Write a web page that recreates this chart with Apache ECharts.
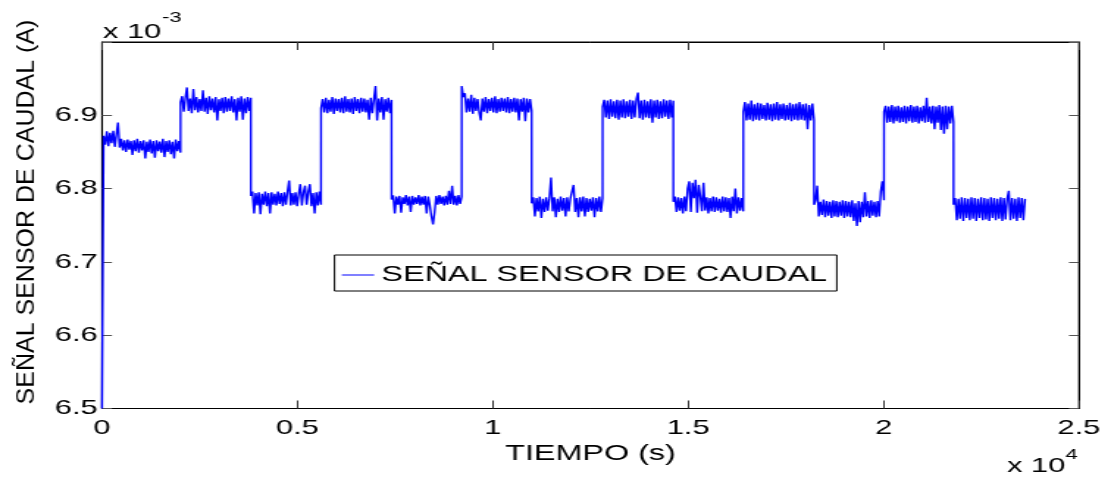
<!DOCTYPE html>
<html>
<head>
<meta charset="utf-8">
<script src="https://cdn.jsdelivr.net/npm/echarts@6/dist/echarts.min.js"></script>
<style>
  html, body { margin: 0; padding: 0; background: #fff; overflow: hidden; }
  /* the reference is stretched sideways, so draw narrow and stretch */
  #Chart { width: 756px; height: 477px; transform: scaleX(1.4696); transform-origin: 0 0; }
</style>
</head>
<body>
<div id="Chart"></div>
<script>
const SX = 1111 / 756

// tiempo (s) en que empieza cada tramo, y el final del registro
const segStart = [ 0, 2010, 3810, 5605, 7410, 9205, 10995, 12810, 14620, 16410, 18220, 20010, 21790 ]
const segEnd = 23620

// señal (x 10^-3 A), muestras, un array por tramo
const s01 = [ 6.500, 6.872, 6.860, 6.878, 6.858, 6.876, 6.862, 6.879, 6.857, 6.874, 6.890, 6.856, 6.868, 6.852, 6.866, 6.850, 6.867, 6.853, 6.865, 6.846, 6.866, 6.851, 6.868, 6.849, 6.865, 6.852, 6.866, 6.841, 6.864, 6.850, 6.867, 6.848, 6.865, 6.842, 6.866, 6.851, 6.864, 6.849, 6.868, 6.843, 6.865, 6.850, 6.866, 6.847, 6.864, 6.841, 6.867, 6.851, 6.865, 6.849 ]
const s02 = [ 6.918, 6.926, 6.905, 6.924, 6.938, 6.906, 6.923, 6.903, 6.936, 6.907, 6.925, 6.904, 6.922, 6.906, 6.934, 6.905, 6.924, 6.902, 6.926, 6.907, 6.923, 6.904, 6.925, 6.893, 6.922, 6.906, 6.924, 6.903, 6.925, 6.905, 6.923, 6.906, 6.926, 6.904, 6.922, 6.893, 6.924, 6.905, 6.926, 6.894, 6.923, 6.903, 6.925, 6.906, 6.924 ]
const s03 = [ 6.790, 6.796, 6.766, 6.794, 6.777, 6.795, 6.765, 6.793, 6.778, 6.796, 6.776, 6.794, 6.766, 6.795, 6.778, 6.793, 6.777, 6.796, 6.779, 6.794, 6.776, 6.795, 6.778, 6.796, 6.811, 6.777, 6.794, 6.778, 6.795, 6.776, 6.793, 6.806, 6.777, 6.795, 6.804, 6.778, 6.796, 6.806, 6.776, 6.794, 6.766, 6.795, 6.777, 6.796, 6.778 ]
const s04 = [ 6.910, 6.922, 6.904, 6.924, 6.903, 6.921, 6.905, 6.925, 6.902, 6.923, 6.906, 6.922, 6.904, 6.924, 6.903, 6.926, 6.905, 6.922, 6.904, 6.923, 6.902, 6.925, 6.906, 6.922, 6.903, 6.924, 6.905, 6.923, 6.904, 6.921, 6.894, 6.924, 6.903, 6.922, 6.940, 6.893, 6.923, 6.904, 6.925, 6.894, 6.922, 6.905, 6.924, 6.903, 6.921 ]
const s05 = [ 6.785, 6.791, 6.766, 6.789, 6.778, 6.790, 6.767, 6.788, 6.779, 6.791, 6.777, 6.789, 6.768, 6.790, 6.778, 6.788, 6.779, 6.791, 6.777, 6.789, 6.778, 6.790, 6.766, 6.789, 6.777, 6.762, 6.751, 6.768, 6.790, 6.778, 6.791, 6.779, 6.789, 6.777, 6.790, 6.778, 6.797, 6.779, 6.804, 6.778, 6.790, 6.777, 6.791, 6.779, 6.789 ]
const s06 = [ 6.940, 6.925, 6.930, 6.904, 6.923, 6.905, 6.928, 6.902, 6.924, 6.906, 6.922, 6.904, 6.893, 6.923, 6.905, 6.925, 6.903, 6.922, 6.906, 6.924, 6.904, 6.926, 6.903, 6.922, 6.905, 6.924, 6.906, 6.923, 6.904, 6.925, 6.903, 6.922, 6.905, 6.924, 6.904, 6.923, 6.893, 6.922, 6.905, 6.924, 6.892, 6.923, 6.904, 6.922, 6.906 ]
const s07 = [ 6.780, 6.788, 6.762, 6.787, 6.769, 6.789, 6.760, 6.786, 6.768, 6.788, 6.770, 6.787, 6.815, 6.769, 6.788, 6.761, 6.786, 6.768, 6.789, 6.770, 6.787, 6.762, 6.788, 6.769, 6.786, 6.796, 6.805, 6.768, 6.787, 6.761, 6.788, 6.769, 6.789, 6.762, 6.787, 6.768, 6.786, 6.770, 6.788, 6.761, 6.787, 6.769, 6.789, 6.768, 6.787 ]
const s08 = [ 6.912, 6.921, 6.897, 6.920, 6.895, 6.922, 6.898, 6.919, 6.896, 6.921, 6.894, 6.920, 6.897, 6.922, 6.896, 6.919, 6.898, 6.921, 6.895, 6.920, 6.897, 6.922, 6.931, 6.896, 6.920, 6.894, 6.921, 6.897, 6.919, 6.896, 6.922, 6.890, 6.920, 6.897, 6.921, 6.895, 6.919, 6.896, 6.922, 6.898, 6.920, 6.895, 6.921, 6.897, 6.920 ]
const s09 = [ 6.782, 6.789, 6.768, 6.788, 6.770, 6.787, 6.766, 6.789, 6.769, 6.800, 6.810, 6.768, 6.808, 6.787, 6.812, 6.767, 6.805, 6.789, 6.769, 6.808, 6.770, 6.788, 6.766, 6.787, 6.769, 6.789, 6.768, 6.788, 6.770, 6.786, 6.767, 6.789, 6.769, 6.788, 6.768, 6.787, 6.760, 6.789, 6.769, 6.800, 6.766, 6.788, 6.770, 6.787, 6.769 ]
const s10 = [ 6.905, 6.918, 6.893, 6.916, 6.894, 6.920, 6.892, 6.915, 6.894, 6.917, 6.893, 6.916, 6.895, 6.914, 6.893, 6.917, 6.894, 6.915, 6.892, 6.916, 6.894, 6.918, 6.893, 6.915, 6.895, 6.916, 6.893, 6.914, 6.894, 6.917, 6.892, 6.915, 6.894, 6.916, 6.893, 6.918, 6.894, 6.915, 6.893, 6.916, 6.881, 6.914, 6.893, 6.916, 6.894 ]
const s11 = [ 6.778, 6.784, 6.804, 6.762, 6.782, 6.764, 6.785, 6.761, 6.783, 6.763, 6.782, 6.760, 6.784, 6.762, 6.783, 6.761, 6.782, 6.763, 6.784, 6.760, 6.783, 6.762, 6.782, 6.761, 6.784, 6.756, 6.780, 6.749, 6.783, 6.754, 6.782, 6.761, 6.795, 6.762, 6.783, 6.760, 6.784, 6.763, 6.782, 6.761, 6.783, 6.762, 6.796, 6.810, 6.784 ]
const s12 = [ 6.905, 6.913, 6.890, 6.912, 6.891, 6.914, 6.889, 6.912, 6.892, 6.913, 6.890, 6.911, 6.891, 6.913, 6.889, 6.912, 6.892, 6.914, 6.890, 6.912, 6.891, 6.913, 6.889, 6.911, 6.892, 6.913, 6.890, 6.924, 6.891, 6.912, 6.889, 6.913, 6.881, 6.912, 6.890, 6.914, 6.880, 6.912, 6.875, 6.913, 6.881, 6.912, 6.889, 6.913, 6.891 ]
const s13 = [ 6.778, 6.787, 6.757, 6.786, 6.759, 6.788, 6.756, 6.787, 6.760, 6.786, 6.757, 6.788, 6.759, 6.787, 6.756, 6.786, 6.760, 6.788, 6.757, 6.787, 6.758, 6.786, 6.756, 6.788, 6.760, 6.787, 6.757, 6.786, 6.759, 6.788, 6.756, 6.787, 6.758, 6.786, 6.797, 6.757, 6.787, 6.759, 6.786, 6.756, 6.788, 6.760, 6.787, 6.757, 6.786 ]

const segs = [ s01, s02, s03, s04, s05, s06, s07, s08, s09, s10, s11, s12, s13 ]

// ejes
const xMin = 0, xMax = 25000, xStep = 5000
const yMin = 6.5, yMax = 7.0, yStep = 0.1

// muestras repartidas a lo largo de cada tramo
const data = []
segs.forEach((vals, k) => {
  const t0 = segStart[k]
  const t1 = (k + 1 < segStart.length ? segStart[k + 1] : segEnd) - 1
  const dt = (t1 - t0) / (vals.length - 1)
  vals.forEach((v, i) => data.push([ t0 + i * dt, v ]))
})

const font = "\"Liberation Sans\", Arial, sans-serif"
const axisCommon = {
  splitLine: { show: false },
  axisLine: { show: true, onZero: false, lineStyle: { color: "#000", width: 1 } }
}

const chart = echarts.init(document.getElementById("Chart"), null, { renderer: "canvas" })
const option = {
  animation: false,
  backgroundColor: "#fff",
  textStyle: { fontFamily: font },
  grid: {
    left: 69.4,
    right: 21.8,
    top: 42,
    bottom: 68.5,
    show: true,
    borderColor: "#000",
    borderWidth: 1,
    backgroundColor: "#fff"
  },
  legend: {
    data: [ "SEÑAL SENSOR DE CAUDAL" ],
    left: 227.6,
    top: 255,
    padding: [ 9, 6.6, 5, 5 ],
    icon: "rect",
    itemWidth: 22,
    itemHeight: 1,
    borderColor: "#000",
    borderWidth: 1,
    borderRadius: 0,
    backgroundColor: "#fff",
    textStyle: { fontSize: 22, color: "#000", lineHeight: 22, fontFamily: font }
  },
  xAxis: [
    {
      ...axisCommon,
      type: "value",
      min: xMin,
      max: xMax,
      interval: xStep,
      axisTick: { show: true, inside: true, length: 8, lineStyle: { color: "#333" } },
      axisLabel: { color: "#000", fontSize: 21, margin: 9, formatter: v => String(v / 1e4) },
      name: "TIEMPO (s)",
      nameLocation: "middle",
      nameGap: 32,
      nameTextStyle: { fontSize: 22, color: "#000", fontFamily: font }
    },
    {
      ...axisCommon,
      type: "value",
      position: "top",
      min: xMin,
      max: xMax,
      interval: xStep,
      axisTick: { show: true, inside: true, length: 8, lineStyle: { color: "#333" } },
      axisLabel: { show: false }
    }
  ],
  yAxis: [
    {
      ...axisCommon,
      type: "value",
      min: yMin,
      max: yMax,
      interval: yStep,
      axisTick: { show: true, inside: true, length: 6.8, lineStyle: { color: "#555" } },
      axisLabel: {
        color: "#000",
        fontSize: 21,
        margin: 3,
        formatter: v => (v > yMax - yStep / 2 ? "" : v.toFixed(1))
      }
    },
    {
      ...axisCommon,
      type: "value",
      position: "right",
      min: yMin,
      max: yMax,
      interval: yStep,
      axisTick: { show: true, inside: true, length: 6.8, lineStyle: { color: "#555" } },
      axisLabel: { show: false }
    }
  ],
  series: [
    {
      name: "SEÑAL SENSOR DE CAUDAL",
      type: "line",
      symbol: "none",
      showSymbol: false,
      xAxisIndex: 0,
      yAxisIndex: 0,
      lineStyle: { color: "#0000ff", width: 1.4 },
      itemStyle: { color: "#0000ff" },
      data: data
    }
  ],
  graphic: [
    {
      type: "text",
      x: 18,
      y: 212,
      rotation: Math.PI / 2,
      scaleY: 1 / SX,
      style: {
        text: "SEÑAL SENSOR DE CAUDAL (A)",
        fontSize: 25,
        fontFamily: font,
        fill: "#000",
        textAlign: "center",
        textVerticalAlign: "middle"
      }
    },
    {
      type: "text",
      x: 70.1,
      y: 32,
      style: { text: "x 10", fontSize: 21, fontFamily: font, fill: "#000", textAlign: "left", textVerticalAlign: "middle" }
    },
    {
      type: "text",
      x: 110.2,
      y: 18,
      style: { text: "-3", fontSize: 15, fontFamily: font, fill: "#000", textAlign: "left", textVerticalAlign: "middle" }
    },
    {
      type: "text",
      x: 685.2,
      y: 466,
      style: { text: "x 10", fontSize: 21, fontFamily: font, fill: "#000", textAlign: "left", textVerticalAlign: "middle" }
    },
    {
      type: "text",
      x: 725,
      y: 455,
      style: { text: "4", fontSize: 15, fontFamily: font, fill: "#000", textAlign: "left", textVerticalAlign: "middle" }
    }
  ]
}
chart.setOption(option)
</script>
</body>
</html>
